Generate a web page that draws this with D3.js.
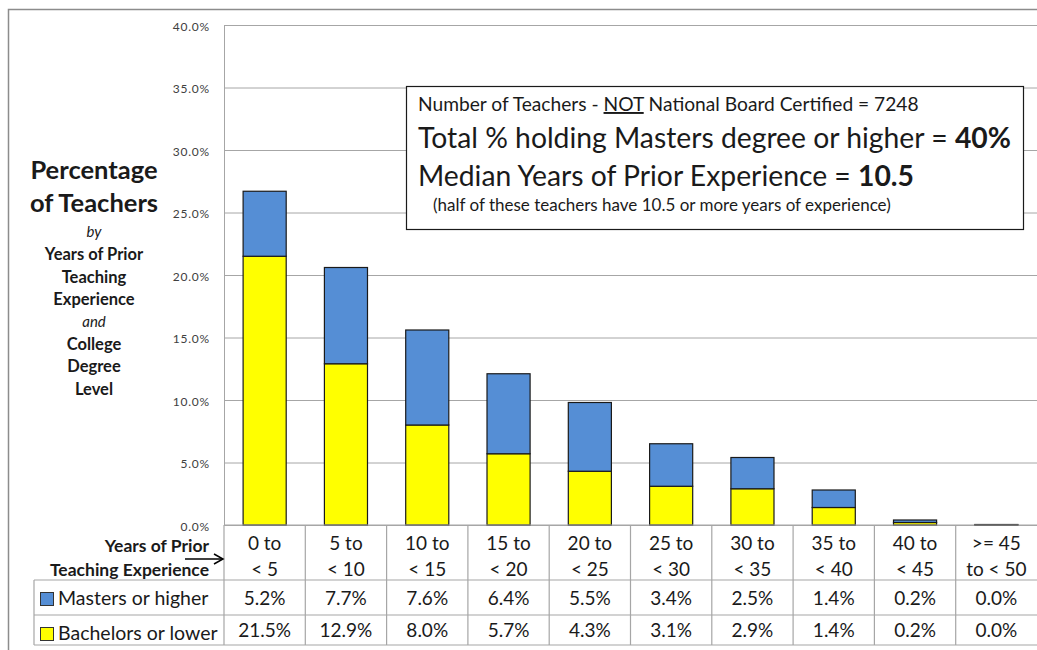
<!DOCTYPE html>
<html>
<head>
<meta charset="utf-8">
<script src="https://cdn.jsdelivr.net/npm/d3@7"></script>
<style>
  body { margin: 0; background: #fff; }
  svg { display: block; font-family: Lato, "Open Sans", sans-serif; }
</style>
</head>
<body>
<svg id="chart" width="1037" height="650"></svg>
<script>
// chart data
const categories = ["0 to|< 5", "5 to|< 10", "10 to|< 15", "15 to|< 20", "20 to|< 25",
  "25 to|< 30", "30 to|< 35", "35 to|< 40", "40 to|< 45", ">= 45|to < 50"];
const masters = [5.2, 7.7, 7.6, 6.4, 5.5, 3.4, 2.5, 1.4, 0.2, 0.02];
const bachelors = [21.5, 12.9, 8.0, 5.7, 4.3, 3.1, 2.9, 1.4, 0.2, 0.02];
const seriesNames = ["Masters or higher", "Bachelors or lower"];
const seriesColors = ["#558ED5", "#FFFF00"];
const yTicks = [0, 5, 10, 15, 20, 25, 30, 35, 40];

const svg = d3.select("#chart");
const plotL = 224, plotR = 1037, plotT = 25, plotB = 525;
const rowY = [525, 580, 615, 645];

// outer frame
svg.append("rect")
  .attr("x", 8.5).attr("y", 9.5)
  .attr("width", 1100).attr("height", 700)
  .attr("fill", "none").attr("stroke", "#8c8c8c").attr("stroke-width", 1.5);

const y = d3.scaleLinear().domain([0, 40]).range([plotB, plotT]);

const x = d3.scaleBand()
  .domain(categories)
  .range([plotL, plotR])
  .paddingInner(0.47)
  .paddingOuter(0.235);

const col = d3.scaleBand().domain(categories).range([plotL, plotR]).padding(0);

// gridlines + tick labels
svg.append("g")
  .attr("transform", "translate(" + plotL + ",0)")
  .call(d3.axisLeft(y).tickValues(yTicks).tickSize(-(plotR - plotL))
    .tickFormat(d => d.toFixed(1) + "%").tickPadding(14))
  .call(g => g.select(".domain").attr("stroke", "#a6a6a6"))
  .call(g => g.selectAll(".tick line").attr("stroke", "#a6a6a6"))
  .call(g => g.selectAll(".tick text")
    .attr("fill", "#404040")
    .style("font-family", "Lato, sans-serif")
    .style("font-size", "12px")
    .style("letter-spacing", "0.8px")
    .attr("dy", "0.45em"));

// stacked bars
const stacked = categories.map((c, i) => ({ cat: c, b: bachelors[i], m: masters[i] }));
const bars = svg.append("g");
bars.selectAll("rect.bach")
  .data(stacked).enter().append("rect")
  .attr("x", d => x(d.cat))
  .attr("y", d => y(d.b))
  .attr("width", x.bandwidth())
  .attr("height", d => y(0) - y(d.b))
  .attr("fill", seriesColors[1])
  .attr("stroke", "#1a1a1a").attr("stroke-width", 1.2);
bars.selectAll("rect.mast")
  .data(stacked).enter().append("rect")
  .attr("x", d => x(d.cat))
  .attr("y", d => y(d.b + d.m))
  .attr("width", x.bandwidth())
  .attr("height", d => y(d.b) - y(d.b + d.m))
  .attr("fill", seriesColors[0])
  .attr("stroke", "#1a1a1a").attr("stroke-width", 1.2);

// data table
const grid = svg.append("g").attr("stroke", "#a6a6a6").attr("stroke-width", 1.2);
grid.append("line").attr("x1", plotL).attr("x2", plotR).attr("y1", rowY[0]).attr("y2", rowY[0]);
rowY.slice(1).forEach(yy => {
  grid.append("line").attr("x1", 34).attr("x2", plotR).attr("y1", yy).attr("y2", yy);
});
grid.append("line").attr("x1", 34).attr("x2", 34).attr("y1", rowY[1]).attr("y2", rowY[3]);
categories.forEach(c => {
  grid.append("line").attr("x1", col(c)).attr("x2", col(c)).attr("y1", rowY[0]).attr("y2", rowY[3]);
});

const table = svg.append("g").attr("fill", "#1a1a1a").style("font-size", "19px");
categories.forEach((c, i) => {
  const cx = col(c) + col.bandwidth() / 2;
  const parts = c.split("|");
  table.append("text").attr("x", cx).attr("y", 550).attr("text-anchor", "middle").text(parts[0]);
  table.append("text").attr("x", cx).attr("y", 576).attr("text-anchor", "middle").text(parts[1]);
  table.append("text").attr("x", cx).attr("y", 605).attr("text-anchor", "middle")
    .text(masters[i].toFixed(1) + "%");
  table.append("text").attr("x", cx).attr("y", 637).attr("text-anchor", "middle")
    .text(bachelors[i].toFixed(1) + "%");
});

// legend keys in table
seriesNames.forEach((name, i) => {
  const yy = rowY[i + 1];
  svg.append("rect")
    .attr("x", 40.5).attr("y", yy + 12.5).attr("width", 13).attr("height", 13)
    .attr("fill", seriesColors[i]).attr("stroke", "#333").attr("stroke-width", 1);
  svg.append("text")
    .attr("x", 58).attr("y", yy + 25)
    .style("font-size", "19.5px").attr("fill", "#1a1a1a")
    .text(name);
});

// x axis title with arrow
const xt = svg.append("g").style("font-size", "17.5px").style("font-weight", "bold").attr("fill", "#1a1a1a");
xt.append("text").attr("x", 209).attr("y", 552).attr("text-anchor", "end").text("Years of Prior");
xt.append("text").attr("x", 209).attr("y", 576).attr("text-anchor", "end").text("Teaching Experience");
svg.append("line").attr("x1", 185).attr("x2", 222).attr("y1", 559).attr("y2", 559)
  .attr("stroke", "#000").attr("stroke-width", 1.5);
svg.append("path").attr("d", "M214,554 L223,559 L214,564")
  .attr("fill", "none").attr("stroke", "#000").attr("stroke-width", 1.5);

// left title
const titleLines = [
  { t: "Percentage", y: 179, s: 25.5, w: "bold", i: "normal" },
  { t: "of Teachers", y: 212, s: 25.5, w: "bold", i: "normal" },
  { t: "by", y: 237, s: 15, w: "normal", i: "italic" },
  { t: "Years of Prior", y: 260, s: 16.5, w: "bold", i: "normal" },
  { t: "Teaching", y: 283, s: 16.5, w: "bold", i: "normal" },
  { t: "Experience", y: 305, s: 16.5, w: "bold", i: "normal" },
  { t: "and", y: 327, s: 15, w: "normal", i: "italic" },
  { t: "College", y: 350, s: 16.5, w: "bold", i: "normal" },
  { t: "Degree", y: 372, s: 16.5, w: "bold", i: "normal" },
  { t: "Level", y: 395, s: 16.5, w: "bold", i: "normal" }
];
svg.append("g").selectAll("text").data(titleLines).enter().append("text")
  .attr("x", 94).attr("y", d => d.y).attr("text-anchor", "middle")
  .style("font-size", d => d.s + "px").style("font-weight", d => d.w)
  .style("font-style", d => d.i).attr("fill", "#1a1a1a")
  .text(d => d.t);

// info box
const box = svg.append("g");
box.append("rect").attr("x", 406.5).attr("y", 86.5).attr("width", 617).attr("height", 143)
  .attr("fill", "#fff").attr("stroke", "#1a1a1a").attr("stroke-width", 1.2);
const l1 = box.append("text").attr("x", 418).attr("y", 111).style("font-size", "19.2px").attr("fill", "#1a1a1a");
l1.append("tspan").text("Number of Teachers - ");
l1.append("tspan").style("text-decoration", "underline").text("NOT");
l1.append("tspan").text(" National Board Certified = 7248");
const l2 = box.append("text").attr("x", 418).attr("y", 148).style("font-size", "28.3px").attr("fill", "#1a1a1a");
l2.append("tspan").text("Total % holding Masters degree or higher = ");
l2.append("tspan").style("font-weight", "bold").text("40%");
const l3 = box.append("text").attr("x", 418).attr("y", 186).style("font-size", "28.3px").attr("fill", "#1a1a1a");
l3.append("tspan").text("Median Years of Prior Experience = ");
l3.append("tspan").style("font-weight", "bold").text("10.5");
box.append("text").attr("x", 433).attr("y", 211).style("font-size", "17px").attr("fill", "#1a1a1a")
  .text("(half of these teachers have 10.5 or more years of experience)");
</script>
</body>
</html>
